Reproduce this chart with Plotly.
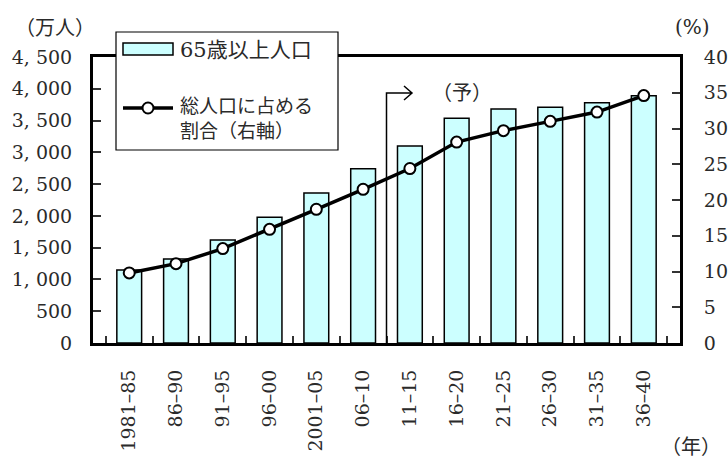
import plotly.graph_objects as go

# Five-year periods (x axis)
periods = ["1981–85", "86–90", "91–95", "96–00", "2001–05", "06–10",
           "11–15", "16–20", "21–25", "26–30", "31–35", "36–40"]
# Population aged 65 and over (10,000 persons, left axis)
elderly_pop = [1150, 1320, 1620, 1980, 2360, 2740, 3100, 3535, 3680, 3710, 3780, 3890]
# Share of total population (%, right axis)
elderly_share = [9.8, 11.1, 13.2, 15.9, 18.7, 21.5, 24.4, 28.1, 29.7, 31.0, 32.3, 34.6]

left_tickvals = [0, 500, 1000, 1500, 2000, 2500, 3000, 3500, 4000, 4500]
left_ticktext = ["0", "500", "1, 000", "1, 500", "2, 000", "2, 500",
                 "3, 000", "3, 500", "4, 000", "4, 500"]
right_tickvals = [0, 5, 10, 15, 20, 25, 30, 35, 40]
right_ticktext = ["0", "5", "10", "15", "20", "25", "30", "35", "40"]

W, H = 728, 462
L, R, T, B = 93, 48, 57, 119
PW, PH = W - L - R, H - T - B


def px(x):
    """pixel x -> paper fraction"""
    return (x - L) / PW


def py(y):
    """pixel y -> paper fraction"""
    return (H - B - y) / PH


NUM_FONT = "DejaVu Serif, Liberation Serif, serif"
JP_FONT = "DejaVu Serif, Noto Sans CJK JP, sans-serif"
TEXT_COLOR = "#2a2a2a"
BAR_FILL = "#CCFFFF"

fig = go.Figure()

fig.add_trace(go.Bar(
    x=periods, y=elderly_pop, name="65歳以上人口",
    width=0.53, marker=dict(color=BAR_FILL, line=dict(color="black", width=1.5)),
    yaxis="y", showlegend=False,
))
fig.add_trace(go.Scatter(
    x=periods, y=elderly_share, name="総人口に占める割合（右軸）",
    mode="lines+markers", yaxis="y2",
    line=dict(color="black", width=3.5),
    marker=dict(symbol="circle", size=11, color="white",
                line=dict(color="black", width=2)),
    showlegend=False,
))

tick_font = dict(family=NUM_FONT, size=19, color=TEXT_COLOR)

fig.update_layout(
    width=W, height=H,
    margin=dict(l=L, r=R, t=T, b=B, pad=0, autoexpand=False),
    paper_bgcolor="white", plot_bgcolor="white",
    font=dict(family=NUM_FONT, size=19, color=TEXT_COLOR),
    bargap=0.47,
    xaxis=dict(
        type="category", showgrid=False, showline=True, linecolor="black",
        linewidth=3, mirror=True, ticks="inside", tickson="boundaries",
        ticklen=7, tickwidth=1.5, tickcolor="#333", tickangle=-90,
        tickfont=tick_font, ticklabelstandoff=16, automargin=False,
    ),
    yaxis=dict(
        range=[0, 4500], tickvals=left_tickvals, ticktext=left_ticktext,
        showgrid=False, zeroline=False, showline=True, linecolor="black",
        linewidth=3, ticks="inside", ticklen=8, tickwidth=1.5, tickcolor="#333",
        tickfont=tick_font, ticklabelstandoff=14, automargin=False,
    ),
    yaxis2=dict(
        range=[0, 40], tickvals=right_tickvals, ticktext=right_ticktext,
        overlaying="y", side="right", showgrid=False, zeroline=False,
        showline=True, linecolor="black", linewidth=3, ticks="inside",
        ticklen=8, tickwidth=1.5, tickcolor="#333",
        tickfont=tick_font, ticklabelstandoff=17, automargin=False,
    ),
)

shapes = []
# Projection marker: bracket rising from the 2010/2011 boundary with an arrow
ax0, ay_top, ax1 = 0.5, py(93), px(412)
shapes.append(dict(
    type="path", xref="paper", yref="paper", layer="above",
    path=(f"M {ax0},0 L {ax0},{ay_top} L {ax1},{ay_top} "
          f"M {px(404)},{py(86)} L {ax1},{ay_top} L {px(404)},{py(100)}"),
    line=dict(color="black", width=1.5),
))
# Legend box
shapes.append(dict(type="rect", xref="paper", yref="paper", layer="above",
                   x0=px(116), x1=px(338), y0=py(150), y1=py(32),
                   fillcolor="white", line=dict(color="black", width=1.2)))
shapes.append(dict(type="rect", xref="paper", yref="paper", layer="above",
                   x0=px(123), x1=px(173), y0=py(55), y1=py(43),
                   fillcolor=BAR_FILL, line=dict(color="black", width=1.5)))
shapes.append(dict(type="line", xref="paper", yref="paper", layer="above",
                   x0=px(123), x1=px(173), y0=py(108), y1=py(108),
                   line=dict(color="black", width=3.5)))
shapes.append(dict(type="circle", xref="paper", yref="paper", layer="above",
                   x0=px(142.5), x1=px(153.5), y0=py(113.5), y1=py(102.5),
                   fillcolor="white", line=dict(color="black", width=2)))
fig.update_layout(shapes=shapes)

annotations = [
    dict(text="65歳以上人口", x=px(178), y=py(50), font_size=21),
    dict(text="総人口に占める<br>割合（右軸）", x=px(178), y=py(118), font_size=19),
]
for a in annotations:
    a.update(xref="paper", yref="paper", xanchor="left", yanchor="middle",
             align="left", showarrow=False,
             font=dict(family=JP_FONT, size=a.pop("font_size"), color=TEXT_COLOR))

annotations += [
    dict(text="（予）", x=px(462), y=py(93), xanchor="center", yanchor="middle"),
    dict(text="（万人）", x=px(55), y=py(28), xanchor="center", yanchor="middle"),
    dict(text="(%)", x=px(692), y=py(27), xanchor="center", yanchor="middle"),
    dict(text="（年）", x=px(691), y=py(461), xanchor="center", yanchor="bottom"),
]
for a in annotations[2:]:
    a.update(xref="paper", yref="paper", showarrow=False,
             font=dict(family=JP_FONT, size=20, color=TEXT_COLOR))

fig.update_layout(annotations=annotations)

fig.write_html("out.html")
